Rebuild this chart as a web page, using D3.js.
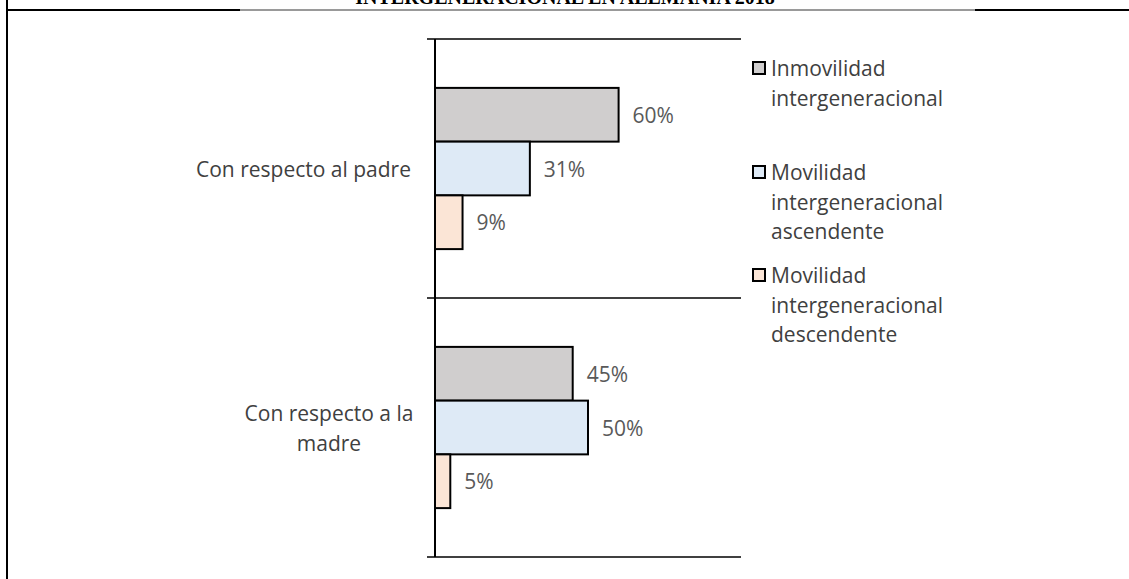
<!DOCTYPE html>
<html><head><meta charset="utf-8">
<script src="https://cdn.jsdelivr.net/npm/d3@7/dist/d3.min.js"></script>
<style>body{margin:0;background:#fff}svg{display:block}</style>
</head><body><svg id="c" width="1129" height="579"></svg>
<script>
const title = "INTERGENERACIONAL EN ALEMANIA 2018";
const categories = ["Con respecto al padre", "Con respecto a la madre"];
const categoryLines = [["Con respecto al padre"], ["Con respecto a la", "madre"]];
const series = ["Inmovilidad intergeneracional", "Movilidad intergeneracional ascendente", "Movilidad intergeneracional descendente"];
const legendLines = [["Inmovilidad", "intergeneracional"], ["Movilidad", "intergeneracional", "ascendente"], ["Movilidad", "intergeneracional", "descendente"]];
const colors = ["#d0cece", "#deeaf6", "#fbe5d6"];
const inmovilidad = [0.60, 0.45];
const ascendente = [0.31, 0.50];
const descendente = [0.09, 0.05];
const values = [inmovilidad, ascendente, descendente];

const svg = d3.select("#c");
const font = "'Open Sans', sans-serif";

// frame
svg.append("line").attr("x1",7).attr("x2",7).attr("y1",0).attr("y2",579).attr("stroke","#000").attr("stroke-width",2);
svg.append("line").attr("x1",6).attr("x2",240).attr("y1",10).attr("y2",10).attr("stroke","#000").attr("stroke-width",2);
svg.append("line").attr("x1",240).attr("x2",975).attr("y1",10).attr("y2",10).attr("stroke","#000").attr("stroke-width",0.8);
svg.append("line").attr("x1",975).attr("x2",1129).attr("y1",10).attr("y2",10).attr("stroke","#000").attr("stroke-width",2);
svg.append("text").attr("x",565).attr("y",4).attr("text-anchor","middle")
  .attr("font-family","'Liberation Serif', serif").attr("font-weight","bold").attr("font-size",20).text(title);

const x = d3.scaleLinear().domain([0,1]).range([435,741]);
const y = d3.scaleBand().domain(categories).range([39,557]).padding(0);
const yi = d3.scaleBand().domain(series).range([0,y.bandwidth()]).paddingInner(0).paddingOuter(0.91);

// gridlines at band boundaries
const bounds = [y.range()[0]].concat(categories.map(c => y(c)+y.bandwidth()));
svg.selectAll("line.grid").data(bounds).enter().append("line")
  .attr("x1",427).attr("x2",741).attr("y1",d=>d).attr("y2",d=>d).attr("stroke","#000").attr("stroke-width",1.6);
svg.append("line").attr("x1",x(0)).attr("x2",x(0)).attr("y1",y.range()[0]).attr("y2",y.range()[1]).attr("stroke","#000").attr("stroke-width",2);

// bars
series.forEach((s,si)=>{
  const g = svg.append("g");
  g.selectAll("rect").data(categories).enter().append("rect")
    .attr("x",x(0)).attr("y",(c)=>y(c)+yi(s))
    .attr("width",(c,i)=>x(values[si][i])-x(0)).attr("height",yi.bandwidth())
    .attr("fill",colors[si]).attr("stroke","#000").attr("stroke-width",2);
  g.selectAll("text").data(categories).enter().append("text")
    .attr("x",(c,i)=>x(values[si][i])+14).attr("y",(c)=>y(c)+yi(s)+yi.bandwidth()/2)
    .attr("dominant-baseline","central").attr("font-family",font).attr("font-size",21).attr("fill","#595959")
    .text((c,i)=>d3.format(".0%")(values[si][i]));
});

// category labels
categories.forEach((c,ci)=>{
  const lines = categoryLines[ci];
  const cy = y(c)+y.bandwidth()/2;
  const t = svg.append("text").attr("font-family",font).attr("font-size",21).attr("fill","#404040")
    .attr("text-anchor", lines.length>1 ? "middle" : "end");
  lines.forEach((l,li)=>{
    t.append("tspan").attr("x", lines.length>1 ? 329 : 411)
      .attr("y", cy + (li-(lines.length-1)/2)*30).attr("dominant-baseline","central").text(l);
  });
});

// legend
const legendY = [68, 172, 275];
series.forEach((s,si)=>{
  svg.append("rect").attr("x",753).attr("y",legendY[si]-6).attr("width",12).attr("height",12)
    .attr("fill",colors[si]).attr("stroke","#000").attr("stroke-width",2);
  legendLines[si].forEach((l,li)=>{
    svg.append("text").attr("x",771).attr("y",legendY[si]+li*29.5).attr("dominant-baseline","central")
      .attr("font-family",font).attr("font-size",21).attr("fill","#404040").text(l);
  });
});
</script></body></html>
